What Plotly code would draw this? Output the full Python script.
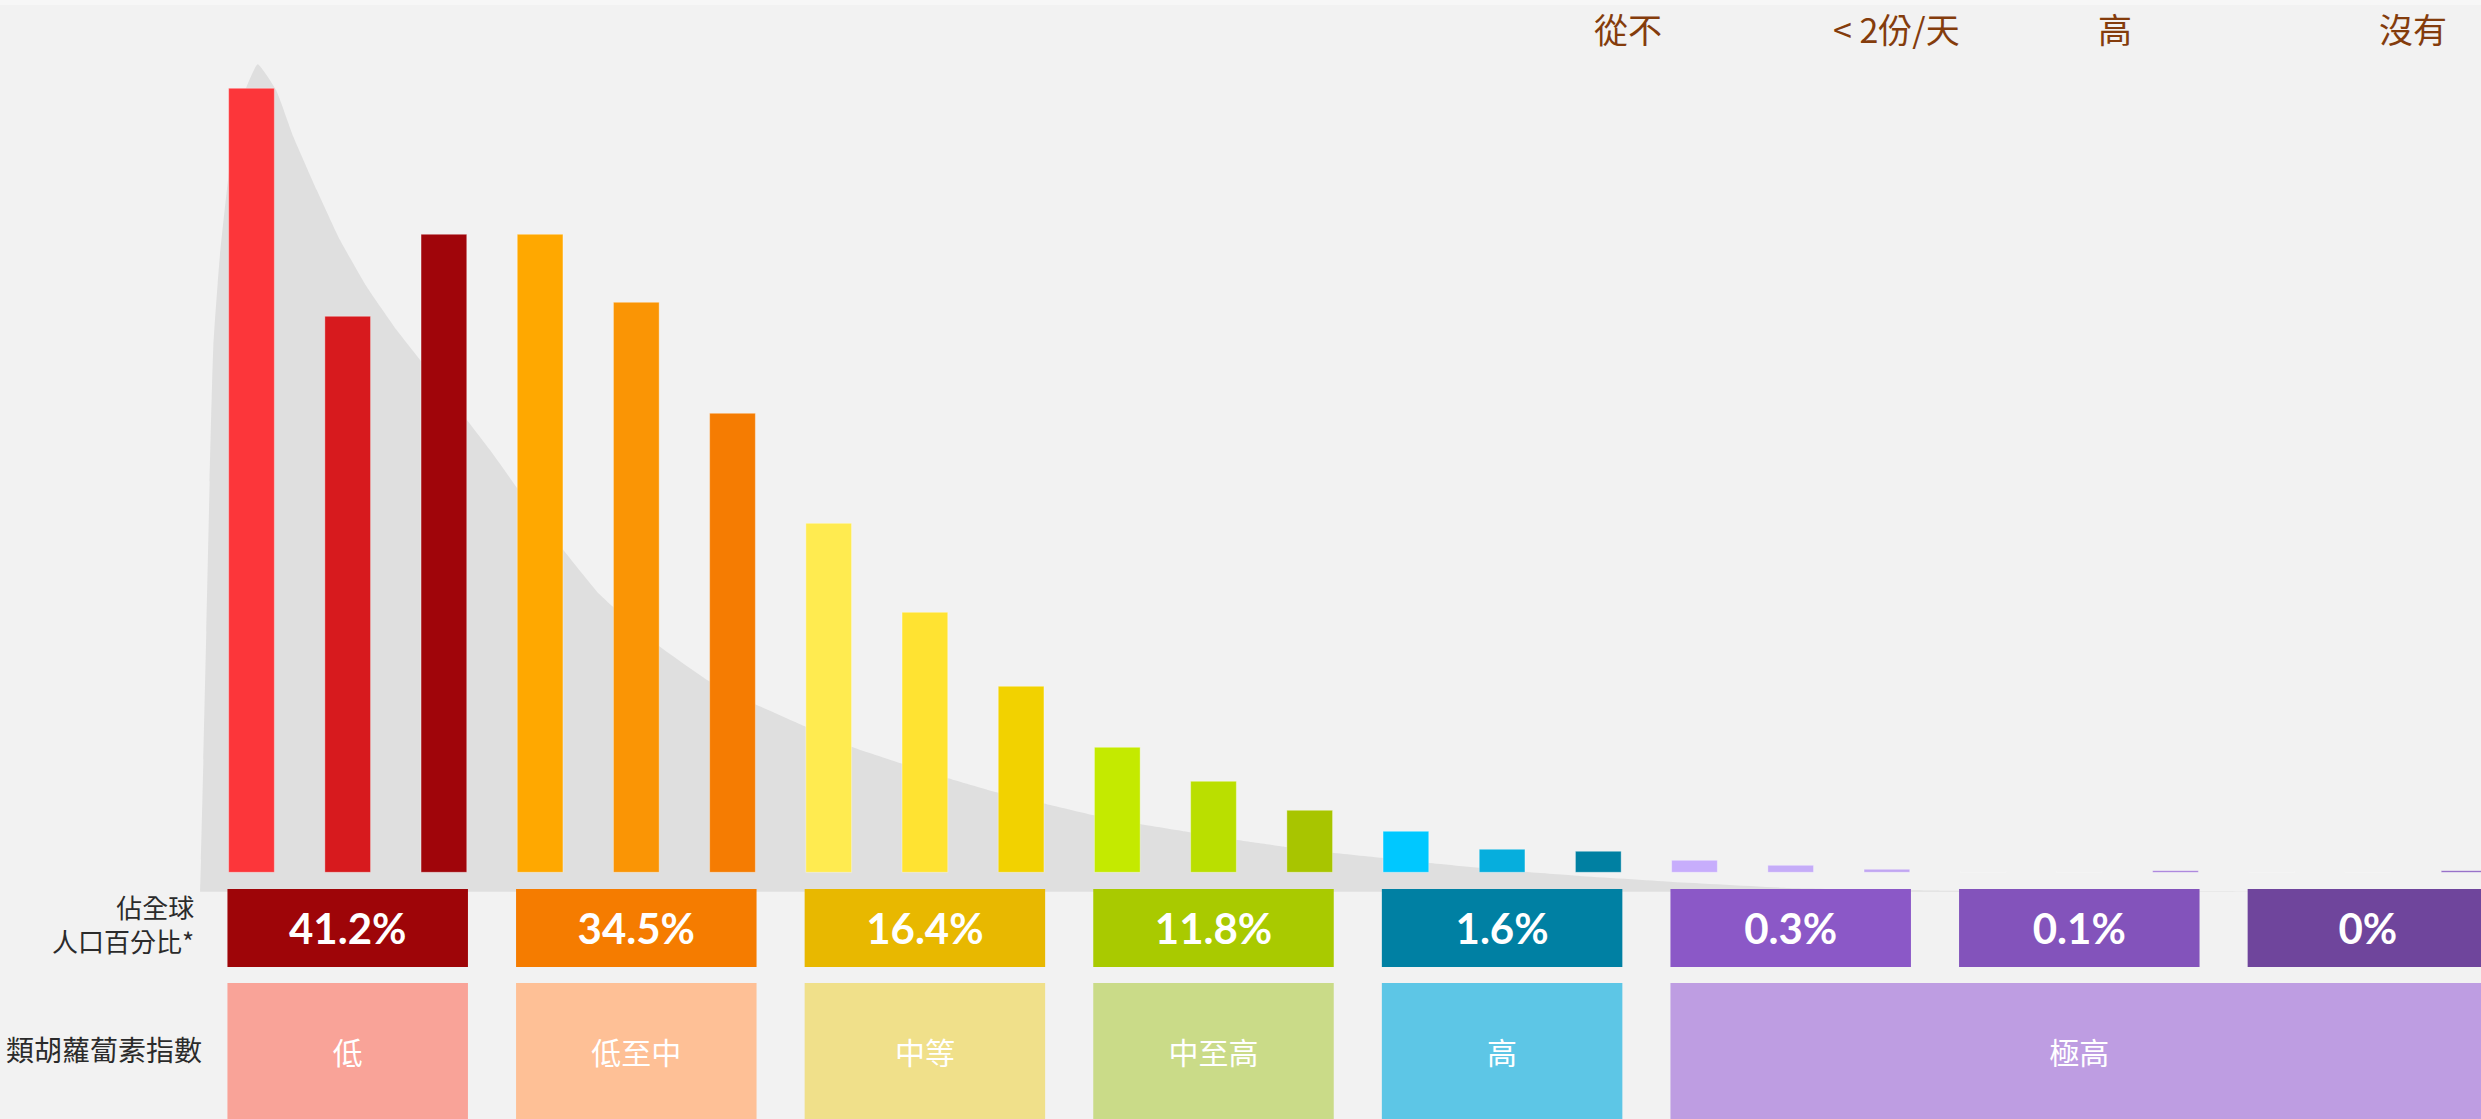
import plotly.graph_objects as go

# --- data -----------------------------------------------------------------
# relative heights of the 24 small bars (3 per population group)
bar_values = [78.4, 55.6, 63.8, 63.8, 57.0, 45.9, 34.9, 26.0, 18.6, 12.5, 9.1, 6.2,
              4.1, 2.3, 2.1, 1.2, 0.7, 0.3, 0.1, 0.1, 0.15, 0.1, 0.1, 0.15]
bar_colors = ["#FC363A", "#D71A1E", "#A0050A",
              "#FFA800", "#FA9505", "#F57C02",
              "#FFEB50", "#FFE332", "#F2D200",
              "#C4EA00", "#BADF00", "#A8C500",
              "#00C8FF", "#06AEDD", "#0080A2",
              "#C7ADFC", "#C5ACF8", "#C1A6F2",
              "#EBEBEB", "#EBEBEB", "#9F72D8",
              "#EBEBEB", "#EBEBEB", "#8557BF"]

# share of world population per group
pct_values = [41.2, 34.5, 16.4, 11.8, 1.6, 0.3, 0.1, 0]
pct_colors = ["#9E0508", "#F57C00", "#E8B800", "#A9CA00",
              "#0080A3", "#8B58C7", "#8353BB", "#6F459C"]

# carotenoid index categories and how many groups each spans
index_labels = ["低", "低至中", "中等", "中至高", "高", "極高"]
index_groups = [1, 1, 1, 1, 1, 3]
index_colors = ["#F9A398", "#FEC096", "#F0E08A", "#CADB88", "#5DC6E6", "#BE9DE2"]

header_labels = ["從不", "< 2份/天", "高", "沒有"]

# grey distribution silhouette behind the bars
curve_x = [-0.535, -0.525, -0.500, -0.470, -0.435, -0.397, -0.330, -0.240, -0.120, 0.064,
           0.255, 0.435, 0.678, 0.920, 1.198, 1.509, 1.959, 2.479, 2.999, 3.623,
           4.215, 4.754, 5.230, 5.766, 6.212, 6.748, 7.225, 7.731, 8.237, 8.743,
           9.219, 9.755, 10.231, 10.737, 11.213, 11.750, 12.226, 12.957, 13.810, 14.745,
           16.062, 17.656, 20.775, 23.18]
curve_y = [-1.94, 1.23, 11.23, 24.0, 39.0, 52.5, 61.5, 69.5, 76.8, 80.8,
           78.23, 73.56, 68.23, 63.23, 58.56, 54.23, 48.73, 42.23, 35.23, 27.75,
           22.77, 19.13, 16.84, 14.54, 12.63, 10.91, 9.45, 8.03, 6.89, 5.74,
           4.86, 4.01, 3.25, 2.56, 1.99, 1.45, 0.95, 0.26, -0.37, -0.94,
           -1.60, -1.85, -1.92, -1.94]

# --- layout constants -------------------------------------------------------
W, H = 2481, 1119
CJK = "Noto Sans CJK TC"
GROUP_W = 2.5
bar_x = list(range(len(bar_values)))
group_x = [3 * k + 1 for k in range(len(pct_values))]

idx_x, idx_w = [], []
g = 0
for n in index_groups:
    left = group_x[g] - GROUP_W / 2
    right = group_x[g + n - 1] + GROUP_W / 2
    idx_x.append((left + right) / 2)
    idx_w.append(right - left)
    g += n

fig = go.Figure()

# silhouette sits on the base axis, bars on an overlaying axis so they draw on top
fig.add_trace(go.Scatter(x=curve_x, y=curve_y, mode="lines", fill="toself",
                         fillcolor="#DFDFDF", line=dict(width=0, shape="spline", smoothing=0.4),
                         hoverinfo="skip", showlegend=False))

fig.add_trace(go.Bar(x=bar_x, y=bar_values, width=0.475,
                     marker=dict(color=bar_colors, line=dict(width=1, color="rgba(255,255,255,0.35)")),
                     yaxis="y4", showlegend=False))

fig.add_trace(go.Bar(x=group_x, y=[1] * len(pct_values), width=GROUP_W,
                     marker=dict(color=pct_colors, line=dict(width=0)),
                     text=[f"{v:g}%" for v in pct_values], textposition="inside",
                     insidetextanchor="middle", textangle=0,
                     textfont=dict(family="Lato", size=42, color="white", weight="bold"),
                     yaxis="y2", showlegend=False))

fig.add_trace(go.Bar(x=idx_x, y=[1] * len(index_labels), width=idx_w,
                     marker=dict(color=index_colors, line=dict(width=0)),
                     text=index_labels, textposition="inside",
                     insidetextanchor="middle", textangle=0,
                     textfont=dict(family=CJK, size=30, color="white"),
                     yaxis="y3", showlegend=False))

# header labels along the top
for txt, xpos in zip(header_labels, [14.31, 17.1, 19.37, 22.47]):
    fig.add_annotation(x=xpos, xref="x", y=1 - 28 / H, yref="paper", text=txt,
                       showarrow=False, xanchor="center", yanchor="middle",
                       font=dict(family=CJK, size=34, color="#843C0C"))

# row titles on the left
fig.add_annotation(x=196 / W, xref="paper", y=1 - 923 / H, yref="paper",
                   text="佔全球<br>人口百分比*", align="right",
                   showarrow=False, xanchor="right", yanchor="middle",
                   font=dict(family=CJK, size=26, color="#2B2B2B"))
fig.add_annotation(x=204 / W, xref="paper", y=1 - 1049 / H, yref="paper",
                   text="類胡蘿蔔素指數",
                   showarrow=False, xanchor="right", yanchor="middle",
                   font=dict(family=CJK, size=28, color="#2B2B2B"))

# thin lighter strip along the top edge
fig.add_shape(type="rect", xref="paper", yref="paper", x0=0, x1=1, y0=1 - 5 / H, y1=1,
              fillcolor="#F7F7F7", line=dict(width=0), layer="below")

x0 = -251.5 / 96.2
y_rng = [(872.3 - H) / 10, 872.3 / 10]
fig.update_layout(
    width=W, height=H,
    margin=dict(l=0, r=0, t=0, b=0),
    paper_bgcolor="#F2F2F2", plot_bgcolor="rgba(0,0,0,0)",
    barmode="overlay",
    xaxis=dict(range=[x0, x0 + W / 96.2], visible=False, fixedrange=True),
    yaxis=dict(range=y_rng, domain=[0, 1], visible=False),
    yaxis4=dict(range=y_rng, overlaying="y", visible=False, anchor="x"),
    yaxis2=dict(range=[0, 1], domain=[(H - 967) / H, (H - 889) / H], visible=False, anchor="x"),
    yaxis3=dict(range=[0, 1], domain=[0, (H - 983) / H], visible=False, anchor="x"),
)

fig.write_html("out.html", config={"displayModeBar": False},
               post_script="document.body.style.margin='0';document.body.style.overflow='hidden';")
